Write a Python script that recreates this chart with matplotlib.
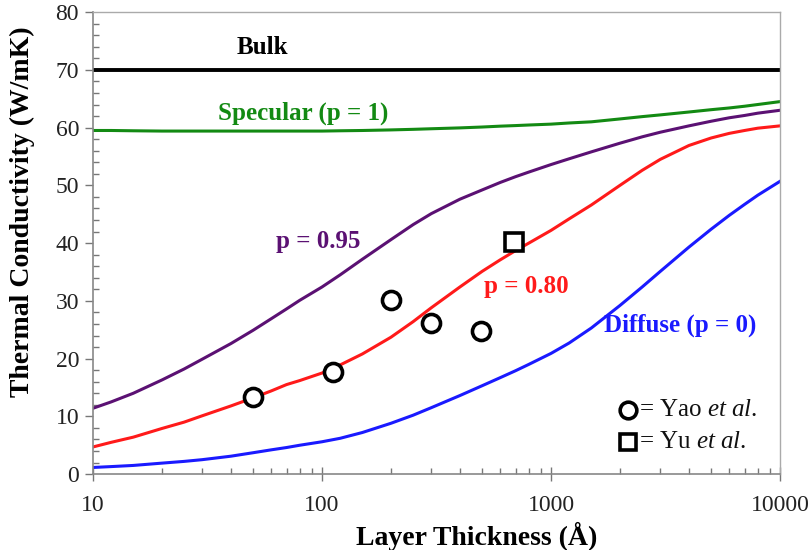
import matplotlib
matplotlib.use("Agg")
import matplotlib.pyplot as plt
from matplotlib.ticker import FixedLocator, MultipleLocator, LogLocator, NullFormatter

plt.rcParams['font.family'] = ['Liberation Serif', 'DejaVu Serif']
plt.rcParams['mathtext.fontset'] = 'custom'
plt.rcParams['mathtext.rm'] = 'Liberation Serif'
plt.rcParams['mathtext.it'] = 'Liberation Serif:italic'

# Thickness grid (Angstrom)
thickness = [10, 12, 15, 20, 25, 30, 40, 50, 60, 70, 80, 100, 120, 150, 200, 250, 300,
             400, 500, 600, 700, 800, 1000, 1200, 1500, 2000, 2500, 3000, 4000, 5000,
             6000, 7000, 8000, 10000]

bulk = [70] * len(thickness)
specular = [59.5, 59.5, 59.45, 59.4, 59.4, 59.4, 59.4, 59.4, 59.4, 59.4, 59.4, 59.4,
            59.45, 59.5, 59.6, 59.7, 59.8, 59.95, 60.1, 60.25, 60.35, 60.45, 60.6, 60.8,
            61.0, 61.5, 61.9, 62.2, 62.7, 63.1, 63.4, 63.7, 64.0, 64.5]
p095 = [11.4, 12.5, 14.0, 16.3, 18.2, 19.9, 22.6, 24.9, 26.9, 28.6, 30.1, 32.4,
        34.5, 37.2, 40.6, 43.2, 45.1, 47.6, 49.2, 50.5, 51.5, 52.3, 53.6, 54.6,
        55.8, 57.3, 58.4, 59.2, 60.3, 61.1, 61.7, 62.1, 62.5, 63.0]
p080 = [4.7, 5.5, 6.4, 7.9, 9.0, 10.1, 11.8, 13.2, 14.4, 15.5, 16.2, 17.5,
        18.9, 20.8, 23.7, 26.4, 28.8, 32.4, 35.1, 37.1, 38.7, 40.0, 42.2, 44.2,
        46.6, 50.0, 52.6, 54.5, 56.9, 58.2, 59.0, 59.5, 59.9, 60.3]
diffuse = [1.15, 1.3, 1.5, 1.9, 2.2, 2.5, 3.1, 3.7, 4.2, 4.6, 5.0, 5.6,
           6.2, 7.2, 8.8, 10.2, 11.5, 13.6, 15.3, 16.7, 17.9, 19.0, 20.9, 22.7,
           25.3, 29.2, 32.4, 35.1, 39.3, 42.4, 44.8, 46.7, 48.3, 50.7]

yao_x = [50, 112, 200, 300, 495]
yao_y = [13.4, 17.7, 30.1, 26.2, 24.8]
yu_x = [690]
yu_y = [40.2]

fig = plt.figure(figsize=(8.1, 5.5), dpi=100)
ax = fig.add_axes([0.1148, 0.138, 0.8482, 0.84])

ax.plot(thickness, bulk, color='black', lw=2.8, solid_capstyle='butt')
ax.plot(thickness, specular, color='#138a13', lw=2.2)
ax.plot(thickness, p095, color='#5b1173', lw=2.2)
ax.plot(thickness, p080, color='#ff1a1a', lw=2.2)
ax.plot(thickness, diffuse, color='#1a1aff', lw=2.2)

ax.plot(yao_x, yao_y, 'o', ms=13, mfc='white', mec='black', mew=2.6, zorder=5)
ax.plot(yu_x, yu_y, 's', ms=13, mfc='white', mec='black', mew=2.6, zorder=5)

ax.set_xscale('log')
ax.set_xlim(10, 10000)
ax.set_ylim(0, 80)

ax.xaxis.set_major_locator(FixedLocator([10, 100, 1000, 10000]))
ax.set_xticklabels(['10', '100', '1000', '10000'])
ax.xaxis.set_minor_locator(LogLocator(base=10, subs=range(2, 10)))
ax.xaxis.set_minor_formatter(NullFormatter())
ax.yaxis.set_major_locator(MultipleLocator(10))
ax.yaxis.set_minor_locator(MultipleLocator(2))

ax.tick_params(axis='y', which='major', direction='out', length=6, width=1, color='#777777',
               labelsize=17, pad=4)
ax.tick_params(axis='y', which='minor', direction='in', length=4, width=1, color='#777777')
ax.tick_params(axis='x', which='major', direction='inout', length=10, width=1, color='#777777',
               labelsize=17, pad=10)
ax.tick_params(axis='x', which='minor', direction='in', length=4, width=1, color='#777777')
for lab in ax.get_xticklabels() + ax.get_yticklabels():
    lab.set_color('#222222')

for s in ['left', 'bottom']:
    ax.spines[s].set_color('#888888')
    ax.spines[s].set_linewidth(1.2)
for s in ['top', 'right']:
    ax.spines[s].set_color('#aaaaaa')
    ax.spines[s].set_linewidth(1.0)

ax.set_xlabel('Layer Thickness (Å)', fontsize=20, fontweight='bold')
ax.set_ylabel('Thermal Conductivity (W/mK)', fontsize=20, fontweight='bold')
ax.xaxis.set_label_coords(0.558, -0.104)
ax.yaxis.set_label_coords(-0.0845, 0.567)

ax.text(55, 73.8, 'Bulk', color='black', fontsize=18, fontweight='bold', ha='center', va='center')
ax.text(83, 62.5, 'Specular (p = 1)', color='#138a13', fontsize=18, fontweight='bold',
        ha='center', va='center')
ax.text(96, 40.3, 'p = 0.95', color='#5b1173', fontsize=18, fontweight='bold',
        ha='center', va='center')
ax.text(780, 32.4, 'p = 0.80', color='#ff1a1a', fontsize=18, fontweight='bold',
        ha='center', va='center')
ax.text(3650, 25.8, 'Diffuse (p = 0)', color='#1a1aff', fontsize=18, fontweight='bold',
        ha='center', va='center')

# legend-like annotations
ax.plot([2170], [11.1], 'o', ms=12, mfc='white', mec='black', mew=2.6, clip_on=False)
ax.plot([2170], [5.5], 's', ms=12, mfc='white', mec='black', mew=2.6, clip_on=False)
ax.text(2420, 11.1, '= Yao $\\mathit{et\\ al}$.', fontsize=18, ha='left', va='center', color='#111111')
ax.text(2420, 5.5, '= Yu $\\mathit{et\\ al}$.', fontsize=18, ha='left', va='center', color='#111111')

fig.savefig('out.png', dpi=100)
